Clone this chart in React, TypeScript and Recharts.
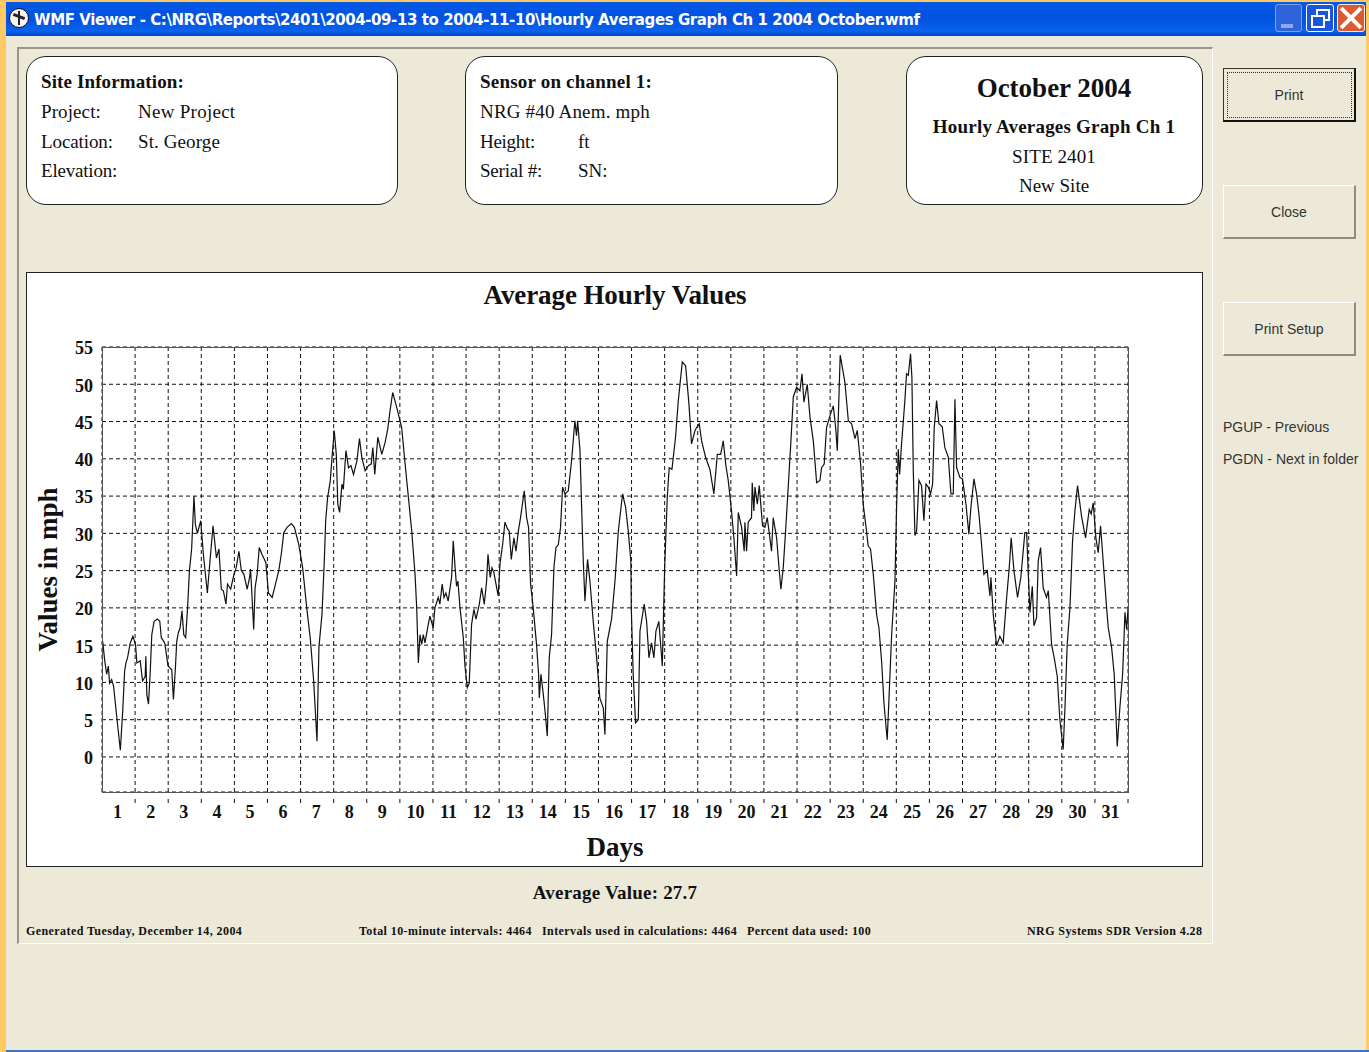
import * as React from "react";
import { LineChart, Line, XAxis, YAxis, CartesianGrid, Label } from "recharts";

const SERIF = '"Liberation Serif", serif';
const SANS = '"Liberation Sans", sans-serif';
const PANEL_BG = "#ECE9D8";

const yTicks = [0, 5, 10, 15, 20, 25, 30, 35, 40, 45, 50, 55];
const dayLabels = Array.from({ length: 31 }, (_, i) => i + 1);
const hourTicks = dayLabels.map((d) => d * 24);

// hour of month
const hours = [
  0.5, 2, 3.4, 4.6, 5.5, 7, 8.4, 10.8, 13.3, 15, 16.4, 17.3, 18.5, 20.5, 22.4, 24.3, 25.3, 27.7, 29.4, 31.3,
  31.8, 32.5, 33.7, 34.9, 36.1, 37.8, 40.2, 41.9, 43, 45.5, 47.9, 50.6, 51.8, 53.3, 54.2, 55.4, 56.6, 58, 59.3, 60.7,
  62.2, 63.4, 65, 66.7, 67.7, 69.2, 71.6, 73.5, 76.4, 78.3, 80.5, 83, 84.8, 86.5, 88, 89.9, 91, 93.3, 95.7, 97.3,
  99.3, 101, 102.9, 105.3, 107.2, 107.7, 108.7, 110, 111, 112.5, 114, 116, 118.8, 120.7, 123.4, 125.8, 128.2, 130, 131.8, 134.2,
  137.3, 139.5, 142.7, 145.5, 148.7, 151, 153.5, 155.9, 157.3, 159.5, 161.2, 162.2, 163.6, 165.5, 167, 168.4, 169.9, 171, 172.3, 174,
  175, 176.9, 178.8, 180.5, 182.4, 184.8, 186.7, 188.4, 190.8, 193.3, 195.2, 196.4, 197.8, 200, 202.9, 205.3, 207.2, 208.9, 210.8, 213.7,
  217.3, 219.8, 222.2, 224.6, 227, 228.2, 229.4, 230.6, 231.8, 233, 234.2, 236.6, 237.8, 240.2, 241.4, 243.8, 245, 246.7, 248, 249.4,
  251, 253.5, 254.7, 256.2, 257.1, 258.1, 259.6, 262, 263.2, 264.9, 266.3, 268, 269.7, 271.2, 273.6, 275.3, 277.2, 278.9, 279.9, 281.5,
  282.8, 284.2, 287.3, 288.6, 290.5, 292.2, 294.1, 295.3, 296.8, 298.7, 300.2, 301.9, 303.5, 306.2, 307.9, 309.3, 310.8, 312.7, 315.1, 316.6,
  317.1, 318.3, 320, 321.4, 322.9, 324.3, 326, 327.7, 329.2, 330.9, 332.5, 334, 335.7, 338.1, 340.5, 342.9, 344.1, 344.9, 346.6, 347.8,
  349, 350.2, 352.1, 353.8, 356.2, 358.7, 361, 363.5, 364.7, 366.4, 369.5, 372, 374.4, 377.5, 379.7, 381.6, 383.5, 383.8, 385.2, 386.9,
  388.9, 390.1, 393.2, 394.9, 396.6, 398.5, 400.2, 401.7, 403.8, 406.3, 408, 409.9, 411.3, 413.3, 415.9, 417.9, 420.8, 423.2, 425.6, 427.5,
  430, 431.2, 433.1, 434.8, 437.7, 440.8, 443.7, 446.2, 448.6, 450.5, 452.4, 454.1, 456.5, 458.2, 460.2, 461.4, 463.8, 465.7, 466.2, 467.4,
  468.6, 471, 471.5, 472.7, 473.5, 475.2, 476.6, 479, 480.7, 482.4, 484.3, 485.5, 486.7, 489.2, 491.1, 492.3, 494, 495.7, 497.6, 499.3,
  501.3, 503.7, 506.1, 507.6, 509, 511.4, 513.4, 515.8, 518.2, 520.6, 521.8, 523.7, 525.4, 527.9, 530.3, 532, 533.2, 535.3, 538.7, 541.2,
  543.6, 546, 547.7, 550.1, 552, 554.4, 555.6, 557.3, 559.3, 561.7, 563.4, 565.3, 567, 568, 569.4, 570.9, 572.6, 575, 576.2, 577.4,
  578.4, 579.8, 582.2, 583.4, 584.7, 586.3, 587.3, 588.3, 589.5, 590.7, 592.4, 594.3, 596, 597.5, 599.2, 600.8, 602.3, 603.5, 605.2, 606.9,
  609.3, 611.2, 613.7, 615.6, 617.3, 618.5, 619.7, 622.1, 624, 626.5, 628.6, 630.1, 632.3, 634.2, 635.9, 637.8, 639.5, 641.9, 643.9, 644.6,
  646.3, 648.7, 651.1, 653.5, 656, 657.9, 659.3, 661.3, 663.9, 666.3, 669.2, 670.5, 671.7, 672.9, 674.6, 675.8, 677.7, 678.9, 680.6, 682.5,
  684.9, 686.2, 688.6, 690.5, 692.7, 694.6, 697, 698.3, 699.9, 701.9, 703.8, 705.5, 707.4, 710.3, 713.2, 715.9, 717.3, 718.8, 720.7, 722.4,
  724.1, 726, 728.5, 729.7, 732.1, 734, 736.2, 738.1, 740.1, 741.8, 743, 744,
];

// mph at those hours
const mph = [
  15.5, 12.9, 11.1, 12.2, 9.9, 10.4, 9.5, 5.2, 0.9, 6.1, 11.5, 12.6, 13.3, 15.3, 16.2, 15.1, 12.6, 12.9, 10.2, 10.8,
  13.5, 8.4, 7.1, 11.1, 16.4, 18.2, 18.5, 18.2, 16, 15.3, 12.2, 11.7, 7.7, 12.2, 15.5, 16.7, 17.3, 19.6, 16.4, 16,
  20.5, 25, 27.9, 35, 31.2, 30, 31.7, 27.2, 22, 26.3, 31, 26.7, 27.9, 22.5, 22.3, 20.5, 23.2, 22.5, 24.5, 25.4,
  27.6, 25, 24.5, 22.5, 24.3, 25.2, 21.8, 17.1, 22.7, 24.5, 28.1, 27.2, 26.1, 22, 21.4, 23.2, 25, 27.2, 30.1, 30.8,
  31.3, 30.8, 28.5, 25.4, 19.6, 16, 10.2, 2.1, 14.7, 19.1, 26.3, 31.7, 34.8, 37, 40.6, 43.8, 40.6, 33.9, 32.8, 36.6,
  35.9, 41.1, 38.8, 39.1, 37.9, 39.7, 42.7, 40.2, 38.4, 39.1, 39.3, 41.5, 37.9, 42.9, 40.6, 42.2, 44, 46.5, 48.9, 46.9,
  44.2, 39.3, 34.8, 30.3, 24.5, 20, 12.6, 16.4, 15.1, 16.4, 15.3, 17.8, 18.9, 17.3, 20, 21.4, 20.5, 23.2, 21.4, 22,
  20.9, 24.1, 29, 25, 22.9, 23.6, 20, 16, 12.2, 9.3, 9.9, 17.8, 19.8, 18.5, 20.5, 22.7, 20.5, 23.6, 27.2, 24.1,
  25.4, 24.7, 21.6, 25.9, 28.5, 31.5, 30.6, 30.3, 26.5, 29.4, 27.6, 30.3, 32.1, 35.7, 32.1, 30.8, 23.2, 20, 15.1, 11.1,
  7.9, 11.1, 8.4, 5.9, 2.8, 13.3, 16.4, 25.4, 28.1, 28.5, 30.8, 36.2, 35.3, 35.7, 39.7, 45.1, 43.1, 45.1, 41.1, 33.5,
  26.3, 20.9, 26.5, 23.6, 18.2, 13.3, 7.9, 6.6, 3, 15.5, 18.5, 23.6, 30.3, 35.3, 33.5, 30.3, 26.3, 20, 11.1, 4.6,
  5, 16.9, 20.5, 18.2, 13.3, 15.3, 13.3, 16.9, 18.2, 12.2, 25.4, 34.8, 38.8, 38.6, 42.9, 47.8, 53, 52.5, 47.4, 42,
  43.8, 44.2, 44.7, 42.4, 40.2, 38.6, 35.3, 40.6, 40.6, 42.4, 39.1, 37.1, 33, 29.4, 24.3, 32.8, 30.8, 27.6, 31.5, 27.6,
  31.5, 32.1, 36.8, 33, 36.2, 33.9, 36.4, 31, 30.8, 32.1, 29.4, 27.6, 32.1, 29.4, 25, 22.5, 25.4, 30.3, 36.2, 41.5,
  48.3, 49.6, 49.1, 51.4, 47.6, 50, 45.6, 42.4, 36.8, 37.1, 38.8, 39.3, 44.2, 45.8, 47.1, 44.2, 41.1, 53.9, 50.3, 45.1,
  44.7, 42.7, 43.8, 39.3, 33.9, 30.3, 28.3, 27.9, 24.5, 19.1, 17.3, 12.9, 7.3, 5.2, 2.3, 8.8, 16.4, 23.6, 33.5, 41.3,
  37.9, 42, 47.8, 51.4, 51.2, 54.1, 50.9, 38.4, 29.7, 30.3, 37.1, 36.4, 31.7, 36.6, 36.2, 35.3, 36.6, 44.2, 47.8, 44.7,
  44.3, 41.5, 40.2, 35.3, 35.3, 48, 38.8, 37.5, 37.3, 33.9, 29.9, 33.5, 37.3, 35.3, 32.6, 28.5, 24.5, 25, 21.6, 24.1,
  19.1, 14.9, 16.2, 15.3, 21.4, 25.4, 29.4, 25, 21.4, 24.1, 30.1, 30.1, 24.5, 19.4, 22.9, 17.6, 18.7, 26.3, 28.1, 22.7,
  21.4, 22.3, 15.1, 13.3, 10.8, 5, 1, 6.6, 15.1, 20, 29, 33, 36.4, 32.3, 29.4, 33.2, 32.6, 34.1, 29.4, 27.4,
  31, 26.3, 20, 17.3, 14.7, 11.1, 1.4, 6.6, 11.1, 19.4, 17.1, 19.8,
];

const chartData = hours.map((hour, i) => ({ hour, mph: mph[i] }));

function T(props: {
  x: number;
  y: number;
  text: string;
  size: number;
  bold?: boolean;
  center?: boolean;
  font?: string;
  color?: string;
  spacing?: number;
}): React.JSX.Element {
  const { x, y, text, size, bold, center, font, color, spacing } = props;
  return (
    <div
      style={{
        position: "absolute",
        left: x,
        top: y - 15,
        lineHeight: "30px",
        fontFamily: font ?? SERIF,
        fontSize: size,
        fontWeight: bold ? 700 : 400,
        color: color ?? "#111",
        letterSpacing: spacing,
        whiteSpace: "pre",
        transform: center ? "translateX(-50%)" : undefined,
      }}
    >
      {text}
    </div>
  );
}

function Box(props: { x: number; w: number }): React.JSX.Element {
  return (
    <div
      style={{
        position: "absolute",
        left: props.x,
        top: 56,
        width: props.w,
        height: 147,
        background: "#fff",
        border: "1px solid #222",
        borderRadius: 20,
      }}
    />
  );
}

function Btn(props: { y: number; h: number; text: string; active?: boolean }): React.JSX.Element {
  const { y, h, text, active } = props;
  return (
    <div
      style={{
        position: "absolute",
        left: 1223,
        top: y,
        width: 133,
        height: h,
        boxSizing: "border-box",
        borderTop: active ? "1px solid #333" : "1px solid #fff",
        borderLeft: active ? "1px solid #333" : "1px solid #fff",
        borderRight: active ? "2px solid #111" : "2px solid #8f8c7e",
        borderBottom: active ? "2px solid #111" : "2px solid #8f8c7e",
        fontFamily: SANS,
        fontSize: 14,
        color: "#333",
        textAlign: "center",
        lineHeight: `${h - 1}px`,
      }}
    >
      {active && (
        <div
          style={{
            position: "absolute",
            left: 3,
            top: 3,
            right: 2,
            bottom: 2,
            border: "1px dotted #333",
          }}
        />
      )}
      {text}
    </div>
  );
}

function DayTick(props: any): React.JSX.Element {
  const { x, y, payload } = props;
  return (
    <g>
      <line x1={x} x2={x} y1={y - 1} y2={y + 3} stroke="#111" strokeWidth={1} />
      <text
        x={x - 17.5}
        y={y + 18}
        textAnchor="middle"
        fontFamily={SERIF}
        fontWeight={700}
        fontSize={18}
        fill="#111"
      >
        {payload.value / 24}
      </text>
    </g>
  );
}

export default function App(): React.JSX.Element {
  return (
    <div
      style={{
        position: "absolute",
        left: 0,
        top: 0,
        width: 1369,
        height: 1052,
        overflow: "hidden",
        background: PANEL_BG,
      }}
    >
      {/* window chrome */}
      <div style={{ position: "absolute", left: 0, top: 0, width: 6, height: 1052, background: "#FFC966" }} />
      <div style={{ position: "absolute", left: 0, top: 0, width: 1369, height: 2, background: "#FFC966" }} />
      <div style={{ position: "absolute", left: 1366, top: 0, width: 3, height: 1052, background: "#FFC966" }} />
      <div style={{ position: "absolute", left: 6, top: 1050, width: 1363, height: 2, background: "#3E74B8" }} />
      <div
        style={{
          position: "absolute",
          left: 6,
          top: 2,
          width: 1360,
          height: 34,
          background: "linear-gradient(180deg,#0A5CE0 0%,#0456E4 10%,#0153DE 50%,#0A62EE 85%,#0247C8 100%)",
        }}
      />
      <div
        style={{
          position: "absolute",
          left: 9,
          top: 8,
          width: 20,
          height: 20,
          borderRadius: 10,
          background: "#f4f4f4",
          border: "1px solid #111",
          boxSizing: "border-box",
        }}
      >
        <div style={{ position: "absolute", left: 8, top: 2, width: 2, height: 14, background: "#222" }} />
        <div style={{ position: "absolute", left: 3, top: 6, width: 12, height: 3, background: "#222", transform: "rotate(20deg)" }} />
      </div>
      <T
        x={34}
        y={20}
        text={"WMF Viewer - C:\\NRG\\Reports\\2401\\2004-09-13 to 2004-11-10\\Hourly Averages Graph Ch 1 2004 October.wmf"}
        size={15}
        font='"DejaVu Sans", sans-serif'
        color="#fff"
        bold
        spacing={-0.42}
      />
      <div style={{ position: "absolute", left: 1275, top: 4, width: 27, height: 28, borderRadius: 3, background: "#2F63DC", border: "1px solid #7C9FEA", boxSizing: "border-box" }}>
        <div style={{ position: "absolute", left: 5, top: 19, width: 12, height: 4, background: "#8FA8EA" }} />
      </div>
      <div style={{ position: "absolute", left: 1306, top: 4, width: 28, height: 28, borderRadius: 3, background: "#1A55DC", border: "1px solid #fff", boxSizing: "border-box" }}>
        <div style={{ position: "absolute", left: 9, top: 4, width: 14, height: 12, border: "2px solid #fff", boxSizing: "border-box" }} />
        <div style={{ position: "absolute", left: 4, top: 10, width: 14, height: 13, border: "2px solid #fff", background: "#1A55DC", boxSizing: "border-box" }} />
      </div>
      <div style={{ position: "absolute", left: 1337, top: 4, width: 28, height: 28, borderRadius: 3, background: "#DC5A32", border: "1px solid #eee", boxSizing: "border-box", overflow: "hidden" }}>
        <div style={{ position: "absolute", left: -1, top: 11, width: 28, height: 4, background: "#fff", transform: "rotate(45deg)" }} />
        <div style={{ position: "absolute", left: -1, top: 11, width: 28, height: 4, background: "#fff", transform: "rotate(-45deg)" }} />
      </div>

      {/* sunken report frame */}
      <div
        style={{
          position: "absolute",
          left: 17,
          top: 47,
          width: 1193,
          height: 894,
          borderTop: "2px solid #9A978A",
          borderLeft: "2px solid #9A978A",
          borderRight: "1px solid #fff",
          borderBottom: "1px solid #fff",
        }}
      />

      <Box x={26} w={370} />
      <T x={41} y={82} text="Site Information:" size={19} bold spacing={0.12} />
      <T x={41} y={112} text="Project:" size={19} spacing={0.1} />
      <T x={138} y={112} text="New Project" size={19} spacing={0.27} />
      <T x={41} y={142} text="Location:" size={19} spacing={-0.1} />
      <T x={138} y={142} text="St. George" size={19} spacing={0.1} />
      <T x={41} y={171} text="Elevation:" size={19} spacing={-0.2} />

      <Box x={465} w={371} />
      <T x={480} y={82} text="Sensor on channel 1:" size={19} bold spacing={0.2} />
      <T x={480} y={112} text="NRG #40 Anem. mph" size={19} spacing={0.18} />
      <T x={480} y={142} text="Height:" size={19} spacing={-0.3} />
      <T x={578} y={142} text="ft" size={19} />
      <T x={480} y={171} text="Serial #:" size={19} spacing={-0.2} />
      <T x={578} y={171} text="SN:" size={19} />

      <Box x={906} w={295} />
      <T x={1054} y={88} text="October 2004" size={27} bold center />
      <T x={1054} y={127} text="Hourly Averages Graph Ch 1" size={19} bold center spacing={0.2} />
      <T x={1054} y={157} text="SITE 2401" size={19} center spacing={0.1} />
      <T x={1054} y={186} text="New Site" size={19} center />

      <Btn y={68} h={54} text="Print" active />
      <Btn y={185} h={54} text="Close" />
      <Btn y={302} h={54} text="Print Setup" />
      <T x={1223} y={427} text="PGUP - Previous" size={14} font={SANS} color="#333" />
      <T x={1223} y={459} text="PGDN - Next in folder" size={14} font={SANS} color="#333" />

      {/* chart */}
      <div
        style={{
          position: "absolute",
          left: 26,
          top: 272,
          width: 1175,
          height: 593,
          background: "#fff",
          border: "1px solid #222",
        }}
      >
        <T x={588} y={22} text="Average Hourly Values" size={27} bold center spacing={-0.1} />
        <div style={{ position: "absolute", left: -1, top: -1 }}>
          <LineChart
            width={1177}
            height={595}
            data={chartData}
            margin={{ top: 75, right: 75, bottom: 0, left: 0 }}
          >
            <CartesianGrid stroke="#111" strokeDasharray="4 3" strokeWidth={1} />
            <XAxis
              dataKey="hour"
              type="number"
              domain={[0, 744]}
              ticks={hourTicks}
              interval={0}
              tick={<DayTick />}
              tickLine={false}
              axisLine={false}
              height={75}
            >
              <Label
                value="Days"
                position="insideBottom"
                offset={11}
                style={{ fontFamily: SERIF, fontWeight: 700, fontSize: 27, fill: "#111" }}
              />
            </XAxis>
            <YAxis
              type="number"
              domain={[-4.7, 55]}
              ticks={yTicks}
              interval={0}
              allowDataOverflow
              width={76}
              tickLine={false}
              axisLine={false}
              tickMargin={3}
              dy={1}
              tick={{ fontFamily: SERIF, fontWeight: 700, fontSize: 18, fill: "#111" }}
            >
              <Label
                value="Values in mph"
                angle={-90}
                position="insideLeft"
                offset={21}
                style={{ fontFamily: SERIF, fontWeight: 700, fontSize: 27, fill: "#111", textAnchor: "middle" }}
              />
            </YAxis>
            <Line
              dataKey="mph"
              stroke="#111"
              strokeWidth={1.2}
              dot={false}
              isAnimationActive={false}
              type="linear"
            />
          </LineChart>
        </div>
        <div
          style={{
            position: "absolute",
            left: 75,
            top: 74,
            width: 1025,
            height: 444,
            border: "1px solid #555",
            pointerEvents: "none",
          }}
        />
      </div>

      <T x={615} y={893} text="Average Value: 27.7" size={19} bold center spacing={0.2} />
      <T x={26} y={931} text="Generated Tuesday, December 14, 2004" size={12} bold spacing={0.42} />
      <T x={359} y={931} text="Total 10-minute intervals: 4464" size={12} bold spacing={0.42} />
      <T x={542} y={931} text="Intervals used in calculations: 4464" size={12} bold spacing={0.42} />
      <T x={747} y={931} text="Percent data used: 100" size={12} bold spacing={0.36} />
      <T x={1027} y={931} text="NRG Systems SDR Version 4.28" size={12} bold spacing={0.42} />
    </div>
  );
}
